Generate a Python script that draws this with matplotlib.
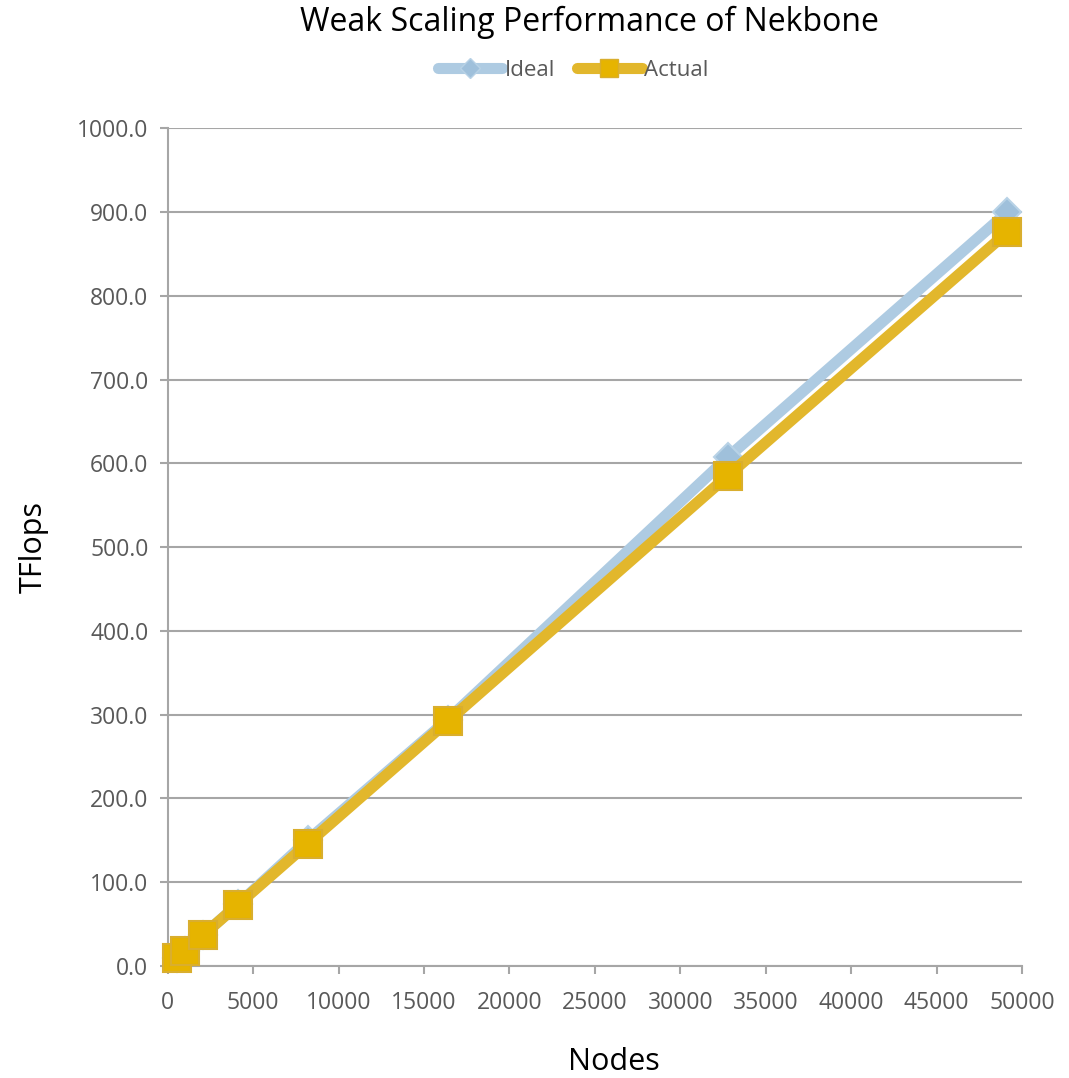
import matplotlib
matplotlib.use("Agg")
import matplotlib.pyplot as plt
from matplotlib.lines import Line2D

nodes = [512, 1024, 2048, 4096, 8192, 16384, 32768, 49152]
ideal = [9.2, 18.3, 36.6, 73.3, 150.0, 294.0, 607.0, 900.0]
actual = [9.0, 18.0, 36.5, 73.0, 146.0, 292.0, 585.0, 876.0]
yticks = [0, 100, 200, 300, 400, 500, 600, 700, 800, 900, 1000]
xticks = [0, 5000, 10000, 15000, 20000, 25000, 30000, 35000, 40000, 45000, 50000]

plt.rcParams['font.family'] = ['Open Sans', 'DejaVu Sans']

fig = plt.figure(figsize=(10.69, 10.78), dpi=100)
ax = fig.add_axes([0.157, 0.104, 0.799, 0.777])

blue = '#AECBE2'
gold = '#E2B72C'

ax.plot(nodes, ideal, color=blue, lw=8, solid_capstyle='round', zorder=3, clip_on=False,
        marker='D', markersize=14, markerfacecolor='#9FC0DB', markeredgecolor='#B8D2E6', markeredgewidth=1.5)
ax.plot(nodes, actual, color=gold, lw=8, solid_capstyle='round', zorder=4, clip_on=False,
        marker='s', markersize=20, markerfacecolor='#E6B400', markeredgecolor='#D9AE2E', markeredgewidth=1.5)

ax.set_xlim(0, 50000)
ax.set_ylim(0, 1000)
ax.set_xticks(xticks)
ax.set_xticklabels([str(v) for v in xticks])
ax.set_yticks(yticks)
ax.set_yticklabels([f"{v:.1f}" for v in yticks])
ax.yaxis.grid(True, color='#A6A6A6', lw=1.5)
ax.set_axisbelow(True)
for s in ['top', 'right']:
    ax.spines[s].set_visible(False)
ax.spines['left'].set_color('#A6A6A6')
ax.spines['left'].set_linewidth(1.5)
ax.spines['bottom'].set_color('#A6A6A6')
ax.spines['bottom'].set_linewidth(1.5)
ax.tick_params(axis='both', colors='#A6A6A6', labelcolor='#595959', labelsize=16.5,
               length=6, width=1.5)
ax.tick_params(axis='x', pad=12)
ax.tick_params(axis='y', pad=8)

ax.set_xlabel('Nodes', fontsize=22, va='center')
ax.xaxis.set_label_coords(0.522, -0.1146)
ax.set_ylabel('TFlops', fontsize=22, labelpad=20)
fig.text(0.551, 0.979, 'Weak Scaling Performance of Nekbone', ha='center', va='center', fontsize=23)

handles = [
    Line2D([], [], color=blue, lw=8, solid_capstyle='round', marker='D', markersize=10,
           markerfacecolor='#9FC0DB', markeredgecolor='#B8D2E6'),
    Line2D([], [], color=gold, lw=8, solid_capstyle='round', marker='s', markersize=13,
           markerfacecolor='#E6B400', markeredgecolor='#D9AE2E'),
]
fig.legend(handles, ['Ideal', 'Actual'], loc='center', bbox_to_anchor=(0.536, 0.935),
           ncol=2, frameon=False, fontsize=16, handlelength=2.9, handletextpad=0.1,
           columnspacing=1.0, labelcolor='#595959')

fig.savefig('out.png', dpi=100)
